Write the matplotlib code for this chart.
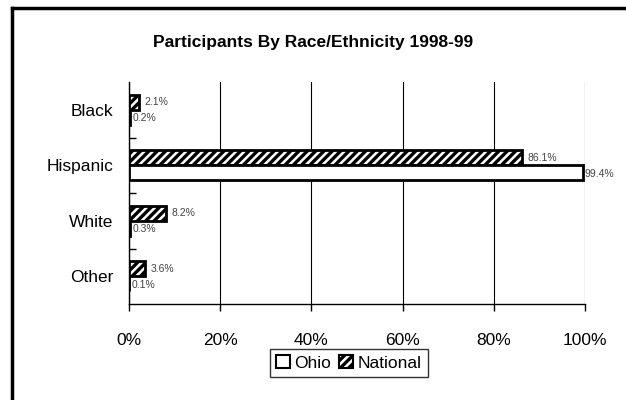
import matplotlib.pyplot as plt
import numpy as np
from matplotlib.lines import Line2D
from matplotlib.patches import Patch
from matplotlib import font_manager

names = {f.name for f in font_manager.fontManager.ttflist}
narrow = 'Liberation Sans Narrow' if 'Liberation Sans Narrow' in names else 'Liberation Sans'
plt.rcParams['font.family'] = [narrow, 'DejaVu Sans']
plt.rcParams['hatch.linewidth'] = 2.4

categories = ['Black', 'Hispanic', 'White', 'Other']
ohio = [0.2, 99.4, 0.3, 0.1]
national = [2.1, 86.1, 8.2, 3.6]
xticks = [0, 20, 40, 60, 80, 100]
xticklabels = ['0%', '20%', '40%', '60%', '80%', '100%']
title = 'Participants By Race/Ethnicity 1998-99'

fig = plt.figure(figsize=(6.26, 4.0), dpi=100)
ax = fig.add_axes([0.206, 0.24, 0.729, 0.555])

y = np.arange(len(categories))
h = 0.27

nat_bars = ax.barh(y - h / 2, national, height=h, color='white', edgecolor='black',
                   hatch='////', linewidth=2, zorder=3)
ohio_bars = ax.barh(y + h / 2, ohio, height=h, color='white', edgecolor='black',
                    linewidth=2, zorder=3)

for yi, v in zip(y, national):
    ax.text(v + 1.2, yi - h / 2, f'{v:.1f}%', va='center', ha='left', fontsize=7.5,
            color='#444444', zorder=4)
for yi, v in zip(y, ohio):
    ax.text(v + 0.5, yi + h / 2 + 0.02, f'{v:.1f}%', va='center', ha='left', fontsize=7.5,
            color='#444444', zorder=4)

ax.set_xlim(0, 100)
ax.set_ylim(3.5, -0.5)
ax.set_xticks(xticks)
ax.set_xticklabels(xticklabels, fontsize=12.5)
ax.set_yticks(y)
ax.set_yticklabels(categories, fontsize=12.5)
ax.tick_params(axis='y', length=0, pad=11)
ax.tick_params(axis='x', length=5, width=1, direction='out', pad=16)
ax.set_yticks([0.5, 1.5, 2.5], minor=True)
ax.tick_params(axis='y', which='minor', length=5, width=1, direction='in')

ax.grid(axis='x', color='black', linewidth=0.8, zorder=0)
for s in ['top', 'right']:
    ax.spines[s].set_visible(False)
ax.spines['left'].set_linewidth(1)
ax.spines['bottom'].set_linewidth(1)

fig.text(0.5, 0.893, title, ha='center', va='center', fontsize=12.5, fontweight='bold')

handles = [Patch(facecolor='white', edgecolor='black', linewidth=1.5, label='Ohio'),
           Patch(facecolor='white', edgecolor='black', linewidth=1.5, hatch='////', label='National')]
leg = fig.legend(handles=handles, loc='center', bbox_to_anchor=(0.557, 0.093), ncol=2,
                 fontsize=12.5, frameon=True, fancybox=False, handlelength=0.8,
                 handleheight=0.8, handletextpad=0.25, columnspacing=0.5,
                 borderpad=0.35)
leg.get_frame().set_edgecolor('black')
leg.get_frame().set_linewidth(1)

# outer chart border (left and top only visible)
fig.add_artist(Line2D([0.019, 0.019], [0.0, 0.98], transform=fig.transFigure,
                      color='black', linewidth=2.5))
fig.add_artist(Line2D([0.019, 1.0], [0.98, 0.98], transform=fig.transFigure,
                      color='black', linewidth=2.5))

fig.savefig('out.png', dpi=100)
